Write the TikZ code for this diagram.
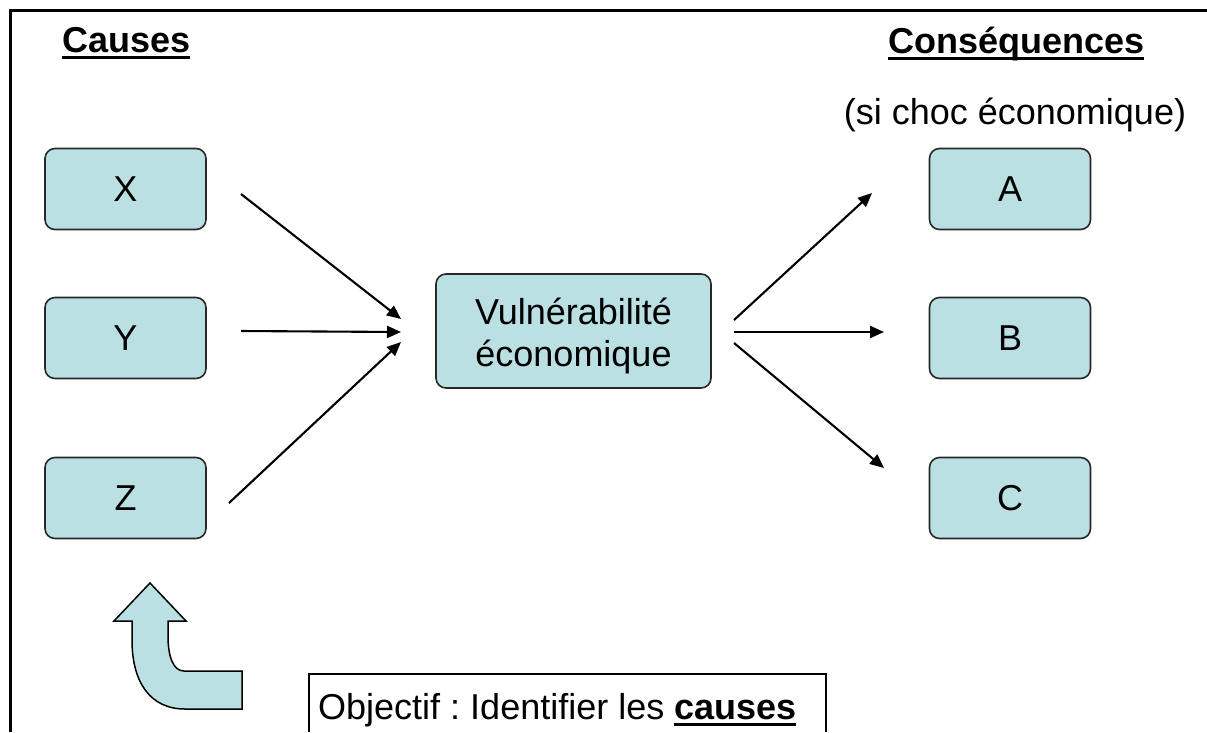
\documentclass[tikz,border=0pt]{standalone}
\usepackage{fontspec}
\setmainfont{Liberation Sans}
\usetikzlibrary{arrows.meta}
\definecolor{boxfill}{RGB}{187,224,227}
\definecolor{boxline}{RGB}{40,40,40}
\newcommand{\myul}[1]{\setbox0\hbox{#1}\rlap{\vrule width\wd0 height -4pt depth 6.5pt}\box0}
\frenchspacing
\tikzset{
  box/.style={draw=boxline, line width=1.6pt, fill=boxfill, rounded corners=10pt,
    minimum width=161pt, minimum height=81pt, inner sep=0pt,
    font=\fontsize{36}{42}\selectfont},
  conn/.style={line width=2.1pt, -{Triangle[length=14pt,width=12pt]}},
  lbl/.style={inner sep=0pt, font=\fontsize{36}{42}\selectfont},
}
\begin{document}
\begin{tikzpicture}[x=1pt,y=-1pt]
\useasboundingbox (0,0) rectangle (1207,732);
% frame
\draw[line width=3pt] (10,732) -- (10,10) -- (1207,10);
% titles
\node[lbl, anchor=base west] (causes) at (62,52) {\bfseries\myul{Causes}};
\node[lbl, anchor=base west] (cons) at (888,53) {\bfseries\myul{Conséquences}};
\node[lbl, anchor=base] (choc) at (1015,124) {(si choc économique)};
% boxes
\node[box] (X) at (125.5,189) {X};
\node[box] (Y) at (125.5,338) {Y};
\node[box] (Z) at (125.5,498) {Z};
\node[box] (A) at (1010,189) {A};
\node[box] (B) at (1010,338) {B};
\node[box] (C) at (1010,498) {C};
\node[box, minimum width=275pt, minimum height=114pt] (V) at (573.5,331) {};
\node[lbl, align=center] (Vt) at (573.5,336) {Vulnérabilité\\économique};
% arrow endpoints
\coordinate (x1) at (241,194);
\coordinate (x2) at (401,319);
\coordinate (y1) at (241,331);
\coordinate (y2) at (401,332);
\coordinate (z1) at (229,503);
\coordinate (z2) at (401,342);
\coordinate (a1) at (734,320);
\coordinate (a2) at (872,193);
\coordinate (b1) at (734,332);
\coordinate (b2) at (884,332);
\coordinate (c1) at (734,343);
\coordinate (c2) at (884,468);
\draw[conn] (x1) -- (x2);
\draw[conn] (y1) -- (y2);
\draw[conn] (z1) -- (z2);
\draw[conn] (a1) -- (a2);
\draw[conn] (b1) -- (b2);
\draw[conn] (c1) -- (c2);
% curved block arrow
\draw[draw=black, line width=1.5pt, fill=boxfill, line join=miter]
  (132,621) -- (132,640) .. controls (132,682) and (150,709) .. (185,709)
  -- (242,709) -- (242,671) -- (184,671)
  .. controls (173,671) and (168,656) .. (168,636)
  -- (168,621) -- (186,621) -- (150,583) -- (114,621) -- cycle;
% objective box
\node[lbl, anchor=base west] (obj) at (318,719) {Objectif : Identifier les \textbf{\myul{causes}}};
\draw[line width=1.6pt] (309,732) -- (309,674) -- (826,674) -- (826,732);
\end{tikzpicture}
\end{document}
